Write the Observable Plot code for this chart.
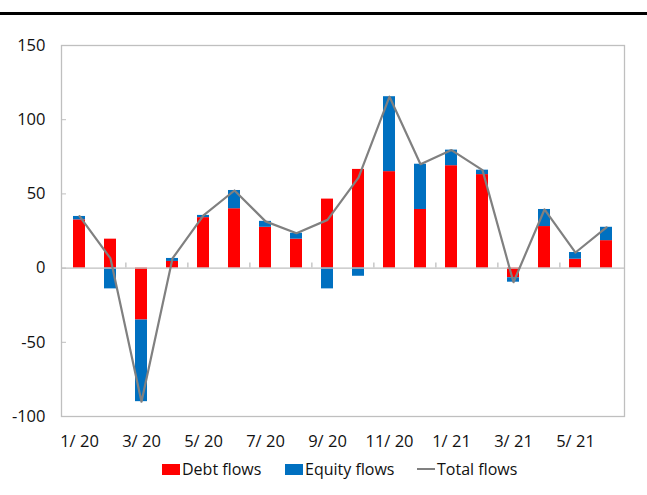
<!DOCTYPE html>
<html><head><meta charset="utf-8">
<script src="https://cdn.jsdelivr.net/npm/d3@7"></script>
<script src="https://cdn.jsdelivr.net/npm/@observablehq/plot@0.6"></script>
<style>
body{margin:0;background:#fff;font-family:"Open Sans",sans-serif;color:#111;}
#wrap{position:relative;width:647px;height:495px;overflow:hidden;}
#rule{position:absolute;left:0;top:12px;width:647px;height:3px;background:#000;}
#chart{position:absolute;left:0;top:15px;}
.leg{position:absolute;top:457px;height:24px;display:flex;align-items:center;font-size:16px;white-space:nowrap;}
.sw{display:inline-block;width:18px;height:11px;margin-right:2px;}
.ln{display:inline-block;width:18px;height:2px;background:#808080;margin-right:2px;}
</style></head><body>
<div id="wrap">
<div id="rule"></div>
<div id="chart"></div>
<div class="leg" style="left:162px"><span class="sw" style="background:#ff0000"></span><span id="l0"></span></div>
<div class="leg" style="left:285px"><span class="sw" style="background:#0070c0"></span><span id="l1"></span></div>
<div class="leg" style="left:417px"><span class="ln"></span><span id="l2"></span></div>
</div>
<script>
const months = ["1/ 20","2/ 20","3/ 20","4/ 20","5/ 20","6/ 20","7/ 20","8/ 20","9/ 20","10/ 20","11/ 20","12/ 20","1/ 21","2/ 21","3/ 21","4/ 21","5/ 21","6/ 21"];
const debtFlows   = [32.5, 19.5, -35, 4.5, 34, 40, 27.5, 19.5, 46.5, 66.5, 65, 39.5, 69, 63, -6.5, 28, 6, 18.5];
const equityFlows = [2.3, -14, -55, 2, 1.5, 12.3, 4, 4, -14, -5.5, 50.5, 30.5, 10.5, 3, -3, 11.5, 4.5, 9];
const totalFlows  = [35, 6.5, -90, 6.5, 35.5, 52.3, 31.5, 23.5, 32.5, 61, 115.5, 70, 79.5, 66, -9.5, 39.5, 10.5, 27.5];
const seriesNames = ["Debt flows", "Equity flows"];
const totalName = "Total flows";
const xTickLabels = ["1/ 20","3/ 20","5/ 20","7/ 20","9/ 20","11/ 20","1/ 21","3/ 21","5/ 21"];
const xTickBoundaries = ["3/ 20","5/ 20","7/ 20","9/ 20","11/ 20","1/ 21","3/ 21","5/ 21"];
const yTicks = [-100, -50, 0, 50, 100, 150];

const rows = [];
months.forEach((m, i) => {
  rows.push({month: m, series: seriesNames[0], value: debtFlows[i]});
  rows.push({month: m, series: seriesNames[1], value: equityFlows[i]});
});
const totals = months.map((m, i) => ({month: m, value: totalFlows[i]}));

const W = 647, H = 440, mL = 61, mR = 23, mT = 30, mB = 39;
const step = (W - mL - mR) / months.length;
const grid = "#bfbfbf";

const chart = Plot.plot({
  width: W, height: H,
  marginLeft: mL, marginRight: mR, marginTop: mT, marginBottom: mB,
  style: {fontFamily: "Open Sans, sans-serif", fontSize: "16.5px", color: "#111", background: "#fff"},
  x: {type: "band", domain: months, paddingInner: 0.6, paddingOuter: 0.3, label: null},
  y: {domain: [-100, 150], label: null},
  color: {domain: seriesNames, range: ["#ff0000", "#0070c0"]},
  marks: [
    Plot.frame({stroke: grid, strokeWidth: 1.3}),
    Plot.barY(rows, {x: "month", y: "value", fill: "series"}),
    Plot.ruleY([0], {stroke: grid, strokeWidth: 1.3}),
    Plot.ruleX(xTickBoundaries, {x: d => d, y1: 0, y2: 0, insetTop: -5, dx: -step / 2, stroke: grid, strokeWidth: 1.3}),
    Plot.lineY(totals, {x: "month", y: "value", stroke: "#808080", strokeWidth: 2.2}),
    Plot.axisY({ticks: yTicks, tickFormat: d => String(d), tickSize: 5, dx: 5, tickPadding: 16, stroke: grid, fill: "#111", fontSize: 16.5}),
    Plot.axisX({ticks: xTickLabels, tickSize: 0, tickPadding: 19, fill: "#111", fontSize: 16.5})
  ]
});
document.getElementById("chart").appendChild(chart);
document.getElementById("l0").textContent = seriesNames[0];
document.getElementById("l1").textContent = seriesNames[1];
document.getElementById("l2").textContent = totalName;
</script>
</body></html>
